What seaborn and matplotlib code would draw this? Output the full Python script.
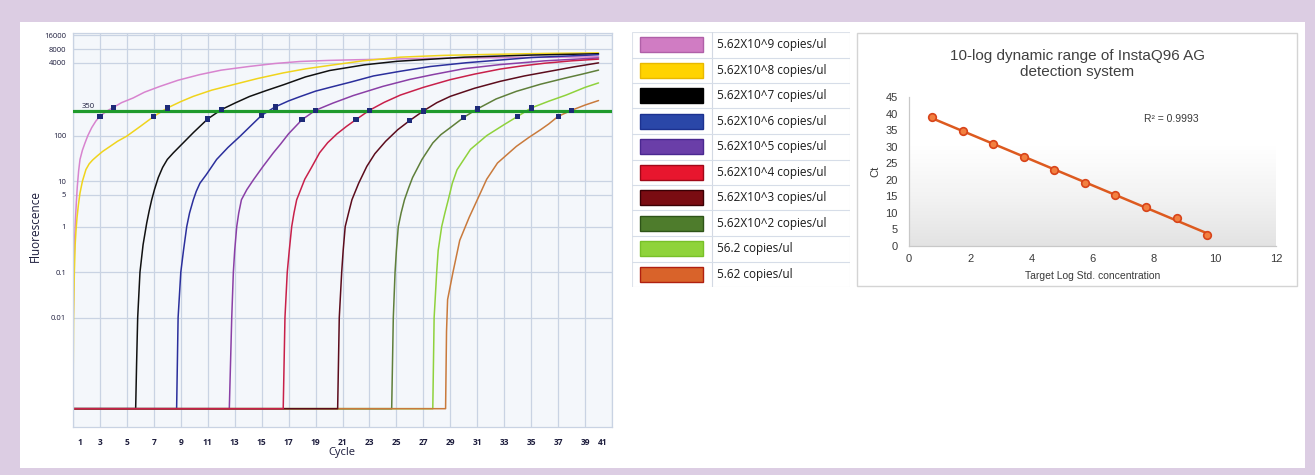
import numpy as np
import pandas as pd
import matplotlib
matplotlib.use("Agg")
import matplotlib.pyplot as plt
import matplotlib.transforms as mtransforms
from matplotlib.patches import Rectangle
from matplotlib.colors import LinearSegmentedColormap
from matplotlib.ticker import NullLocator
import seaborn as sns

# ---------------- data ----------------
sample_labels = [
    "5.62X10^9 copies/ul", "5.62X10^8 copies/ul", "5.62X10^7 copies/ul",
    "5.62X10^6 copies/ul", "5.62X10^5 copies/ul", "5.62X10^4 copies/ul",
    "5.62X10^3 copies/ul", "5.62X10^2 copies/ul", "56.2 copies/ul", "5.62 copies/ul",
]
line_colors = ["#d884cf", "#f0d41c", "#111111", "#2b2f9c", "#8a3fa6",
               "#c8204a", "#5c0c1c", "#5f7f3a", "#8fd23c", "#c97a3c"]
swatch_colors = ["#d07cc3", "#ffd300", "#000000", "#2a47a8", "#6a3ea8",
                 "#e8162e", "#7a0c12", "#4e7c2c", "#8fd33a", "#d9632a"]
swatch_edges = ["#b060a8", "#e8b800", "#000000", "#1c3290", "#4a2890",
                "#a00818", "#3a0004", "#2e5418", "#78c028", "#b02010"]

# amplification curves (cycle, fluorescence) per standard
cyc_e9 = [1.0, 1.02, 1.06, 1.12, 1.18, 1.25, 1.32, 1.42, 1.52, 1.7, 1.89, 2.1, 2.39, 2.7, 3, 3.5, 4,
          4.6, 5.47, 6.3, 7.46, 8.8, 10.4, 12, 14.1, 16, 17.85, 20, 22, 25, 28, 31, 34, 37, 40]
flu_e9 = [1e-4, 0.01, 0.1, 0.5, 1.4, 3.5, 7.7, 17, 30, 48, 69, 100, 150, 210, 265, 345, 418,
          530, 674, 900, 1210, 1650, 2190, 2750, 3320, 3850, 4260, 4500, 4650, 4850, 5000, 5100, 5200, 5300, 5400]

cyc_e8 = [1.0, 1.04, 1.1, 1.16, 1.22, 1.3, 1.4, 1.52, 1.7, 1.96, 2.2, 2.45, 2.76, 3.2, 3.75, 4.3, 4.98,
          6, 7, 8, 9, 9.93, 11.3, 12.9, 14.7, 16.6, 18.3, 20.07, 22.5, 25.3, 28.5, 32, 36, 40]
flu_e8 = [1e-4, 0.01, 0.1, 0.4, 0.8, 1.6, 3, 5.5, 10, 18, 24, 29, 35, 45, 58, 75, 97,
          160, 265, 405, 560, 730, 1000, 1320, 1800, 2390, 2950, 3500, 4400, 5300, 5800, 6100, 6400, 6600]

cyc_e7 = [1, 5.65, 5.72, 5.8, 5.97, 6.2, 6.47, 6.65, 6.84, 7.05, 7.33, 7.65, 8.0, 8.45, 9.15, 9.95, 11,
          12, 13.05, 14.1, 15.35, 16.65, 18.25, 20.05, 22.65, 25.05, 30.05, 35.05, 40]
flu_e7 = [1e-4, 1e-4, 1e-3, 0.01, 0.1, 0.4, 1.2, 2.2, 3.9, 6.6, 12, 20, 30, 42, 68, 118, 233,
          372, 525, 725, 980, 1320, 1950, 2700, 3600, 4300, 5300, 5900, 6300]

cyc_e6 = [1, 8.69, 8.8, 9.0, 9.2, 9.44, 9.65, 9.93, 10.15, 10.42, 10.9, 11.66, 12.5, 13.4, 14.2, 15, 16,
          17, 17.85, 19, 20.07, 21.6, 23.3, 25.3, 27.5, 30.2, 35, 40]
flu_e6 = [1e-4, 1e-4, 0.01, 0.1, 0.3, 1, 2, 3.9, 6, 9, 14, 30, 55, 97, 165, 280, 427,
          580, 720, 950, 1150, 1500, 2050, 2600, 3300, 4000, 5200, 6000]

cyc_e5 = [1, 12.6, 12.78, 12.9, 13.0, 13.15, 13.3, 13.5, 13.9, 14.4, 15.1, 15.87, 16.4, 17, 18, 19,
          20.3, 21.8, 24, 26, 27.7, 30, 32.7, 36, 40]
flu_e5 = [1e-4, 1e-4, 0.01, 0.1, 0.3, 1, 2, 3.9, 6.5, 10.8, 21, 42, 65, 110, 225, 361,
          520, 760, 1210, 1720, 2190, 2950, 3640, 4400, 5100]

cyc_e4 = [1, 16.6, 16.73, 16.9, 17.05, 17.23, 17.4, 17.6, 17.85, 18.2, 18.7, 19.3, 19.9, 20.6, 21.3, 22, 23,
          24.1, 25.3, 27, 29, 30.8, 32.7, 34.3, 36, 38, 40]
flu_e4 = [1e-4, 1e-4, 0.01, 0.1, 0.3, 1, 2, 3.9, 6, 11, 20, 42, 70, 110, 160, 225, 361,
          540, 780, 1150, 1700, 2250, 2900, 3400, 3900, 4400, 4800]

cyc_e3 = [1, 20.64, 20.76, 20.94, 21.05, 21.2, 21.45, 21.7, 22.2, 22.8, 23.4, 24.2, 25.1, 26, 27,
          28, 29, 30.8, 32.7, 34.5, 36.4, 38.2, 40]
flu_e3 = [1e-4, 1e-4, 0.01, 0.1, 0.3, 1, 2, 3.9, 9, 21, 40, 75, 135, 216, 349,
          530, 730, 1100, 1560, 2050, 2600, 3250, 3970]

cyc_e2 = [1, 24.65, 24.77, 24.9, 25.0, 25.14, 25.35, 25.6, 25.9, 26.2, 26.9, 27.7, 28.3, 29, 30, 31,
          32.4, 33.9, 35.7, 37.6, 38.8, 40]
flu_e2 = [1e-4, 1e-4, 0.01, 0.1, 0.3, 1, 2, 3.9, 7, 12, 30, 69, 105, 150, 252, 386,
          640, 940, 1350, 1860, 2250, 2750]

cyc_e1 = [1, 27.7, 27.8, 27.99, 28.1, 28.36, 28.6, 28.85, 29.15, 29.5, 30.5, 31.7, 33, 34, 35,
          36.3, 37.6, 39, 40]
flu_e1 = [1e-4, 1e-4, 0.01, 0.1, 0.3, 1, 2, 3.9, 9, 17.8, 50, 100, 175, 265, 405,
          570, 780, 1150, 1440]

cyc_e0 = [1, 28.65, 28.72, 28.8, 29.2, 29.7, 30.4, 31.1, 31.7, 32.5, 33.9, 34.8, 35.7, 36.3, 37, 38,
          39, 40]
flu_e0 = [1e-4, 1e-4, 0.005, 0.025, 0.1, 0.5, 1.6, 4.5, 11, 25, 58, 90, 135, 180, 265, 361,
          470, 590]

curve_cycles = [cyc_e9, cyc_e8, cyc_e7, cyc_e6, cyc_e5, cyc_e4, cyc_e3, cyc_e2, cyc_e1, cyc_e0]
curve_fluor = [flu_e9, flu_e8, flu_e7, flu_e6, flu_e5, flu_e4, flu_e3, flu_e2, flu_e1, flu_e0]

threshold = 350
# readings on either side of the threshold crossing
dot_cycles = [3, 4, 7, 8, 11, 12, 15, 16, 18, 19, 22, 23, 26, 27, 30, 31, 34, 35, 37, 38]
dot_fluor = [265, 418, 265, 405, 233, 372, 280, 427, 225, 361, 225, 361, 216, 349, 252, 386, 265, 405, 265, 361]

cycle_ticks = list(range(1, 42, 2))
fluor_ticks = [0.01, 0.1, 1, 5, 10, 100, 4000, 8000, 16000]
fluor_tick_labels = ["0.01", "0.1", "1", "5", "10", "100", "4000", "8000", "16000"]

# standard curve
log_conc = [0.75, 1.75, 2.75, 3.75, 4.75, 5.75, 6.75, 7.75, 8.75, 9.75]
ct_values = [39.0, 34.6, 30.7, 27.0, 22.9, 18.9, 15.4, 11.9, 8.5, 3.2]
r2_text = "R² = 0.9993"

# ---------------- figure ----------------
sns.set_theme(style="white")
plt.rcParams["font.family"] = ["Open Sans", "DejaVu Sans"]
excel_font = ["Liberation Sans", "DejaVu Sans"]

W, H = 1315, 475
fig = plt.figure(figsize=(W / 100, H / 100), dpi=100, facecolor="#dccde3")
fig.patches.append(Rectangle((20 / W, 1 - 468 / H), 1285 / W, 446 / H,
                             transform=fig.transFigure, facecolor="white",
                             edgecolor="none", zorder=-10))

def fig_axes(x0, y0, x1, y1):
    return fig.add_axes([x0 / W, 1 - y1 / H, (x1 - x0) / W, (y1 - y0) / H])

# ---- amplification plot ----
ax = fig_axes(73, 33, 612, 427)
ax.set_facecolor("#f4f7fb")
frames = [pd.DataFrame({"cycle": c, "fluorescence": f, "sample": lab})
          for lab, c, f in zip(sample_labels, curve_cycles, curve_fluor)]
amp = pd.concat(frames, ignore_index=True)
draw_order = [sample_labels[i] for i in (0, 1, 2, 3, 4, 8, 7, 9, 6, 5)]
sns.lineplot(data=amp, x="cycle", y="fluorescence", hue="sample",
             hue_order=draw_order, palette=dict(zip(sample_labels, line_colors)),
             estimator=None, sort=False, legend=False, lw=1.1, ax=ax, zorder=2)
ax.axhline(threshold, color="#1f9a2c", lw=2.3, zorder=3)
sns.scatterplot(x=dot_cycles, y=dot_fluor, marker="s", s=14, color="#1d2a78",
                edgecolor="none", ax=ax, zorder=4)
ax.set_yscale("log")
ax.set_xlim(1, 41)
ax.set_ylim(3.96e-5, 18000)
ax.set_xticks(cycle_ticks)
ax.set_xticklabels([str(t) for t in cycle_ticks])
ax.set_yticks(fluor_ticks)
ax.set_yticklabels(fluor_tick_labels)
ax.yaxis.set_minor_locator(NullLocator())
ax.grid(True, which="major", color="#c9d3e3", lw=0.9)
ax.set_axisbelow(True)
for s in ax.spines.values():
    s.set_color("#c9d3e3")
    s.set_linewidth(0.9)
ax.tick_params(axis="x", length=0, pad=8, labelsize=6, labelcolor="#1c1c3c")
ax.tick_params(axis="y", length=0, pad=5, labelsize=5.5, labelcolor="#1c1c3c")
for lab in ax.get_xticklabels():
    lab.set_fontweight("bold")
xt = ax.get_xticklabels()
xt[0].set_transform(xt[0].get_transform() + mtransforms.ScaledTranslation(0.07, 0, fig.dpi_scale_trans))
xt[-1].set_transform(xt[-1].get_transform() + mtransforms.ScaledTranslation(-0.09, 0, fig.dpi_scale_trans))
ax.set_xlabel("")
ax.set_ylabel("")
ax.text(1.67, 427, str(threshold), fontsize=5.5, color="#1c1c3c", va="center", ha="left", zorder=5)
fig.text(35 / W, 1 - 226 / H, "Fluorescence", rotation=90, fontsize=8.5,
         color="#1c1c3c", ha="center", va="center")
fig.text(342 / W, 1 - 453 / H, "Cycle", fontsize=8, color="#1c1c3c",
         ha="center", va="center")

# ---- legend table ----
lg = fig_axes(632, 32, 850, 287)
row_h = 25.5
lg.set_xlim(0, 218)
lg.set_ylim(row_h * len(sample_labels), 0)
lg.axis("off")
lg.add_patch(Rectangle((0, 0), 218, row_h * len(sample_labels), facecolor="white",
                       edgecolor="#dde2ea", lw=0.8))
lg.plot([80, 80], [0, row_h * len(sample_labels)], color="#d3d9e3", lw=0.8)
for i, (lab, fc, ec) in enumerate(zip(sample_labels, swatch_colors, swatch_edges)):
    top = i * row_h
    lg.add_patch(Rectangle((8, top + 5), 63, 15, facecolor=fc, edgecolor=ec, lw=1.0))
    lg.text(85, top + row_h / 2, lab, fontsize=8.5, color="#1a1a1a", va="center", ha="left")
    if i > 0:
        lg.plot([0, 218], [top, top], color="#d6dde8", lw=0.8)

# ---- standard curve ----
fig.patches.append(Rectangle((857 / W, 1 - 286 / H), 440 / W, 253 / H,
                             transform=fig.transFigure, facecolor="white",
                             edgecolor="#d4d4d4", lw=1.0, zorder=-5))
ax2 = fig_axes(909, 97, 1276, 246)
grad = np.linspace(0, 1, 256).reshape(-1, 1)
cmap = LinearSegmentedColormap.from_list("bg", ["#e3e3e3", "#f3f3f3", "#ffffff", "#ffffff"])
ax2.imshow(grad, extent=[0, 1, 0, 1], transform=ax2.transAxes, origin="lower",
           cmap=cmap, aspect="auto", zorder=0)
sns.regplot(x=log_conc, y=ct_values, ci=None, scatter=False,
            line_kws=dict(color="#dd5a1f", lw=1.8, zorder=3), ax=ax2)
sns.scatterplot(x=log_conc, y=ct_values, s=30, color="#f28040",
                edgecolor="#d8441a", linewidth=1.2, ax=ax2, zorder=4)
ax2.set_xlim(0, 12)
ax2.set_ylim(0, 45)
ax2.set_xticks(range(0, 13, 2))
ax2.set_yticks(range(0, 46, 5))
for side in ("top", "right"):
    ax2.spines[side].set_visible(False)
for side in ("left", "bottom"):
    ax2.spines[side].set_color("#c8c8c8")
    ax2.spines[side].set_linewidth(0.9)
ax2.tick_params(length=0, labelsize=8, labelcolor="#3a3a3a")
ax2.tick_params(axis="y", pad=8)
ax2.tick_params(axis="x", pad=6)
for t in ax2.get_xticklabels() + ax2.get_yticklabels():
    t.set_fontfamily(excel_font)
ax2.set_xlabel("Target Log Std. concentration", fontsize=7.5, color="#3a3a3a",
               family=excel_font, labelpad=5)
ax2.set_ylabel("Ct", fontsize=8, color="#3a3a3a", family=excel_font, labelpad=4)
ax2.text(7.7, 38.5, r2_text, fontsize=7.5, color="#3a3a3a",
         family=excel_font, va="center", ha="left")
fig.text(1077 / W, 1 - 64 / H, "10-log dynamic range of InstaQ96 AG\ndetection system",
         fontsize=11, color="#404040", ha="center", va="center", linespacing=1.15,
         family=excel_font)

fig.savefig("out.png", dpi=100, facecolor=fig.get_facecolor())
